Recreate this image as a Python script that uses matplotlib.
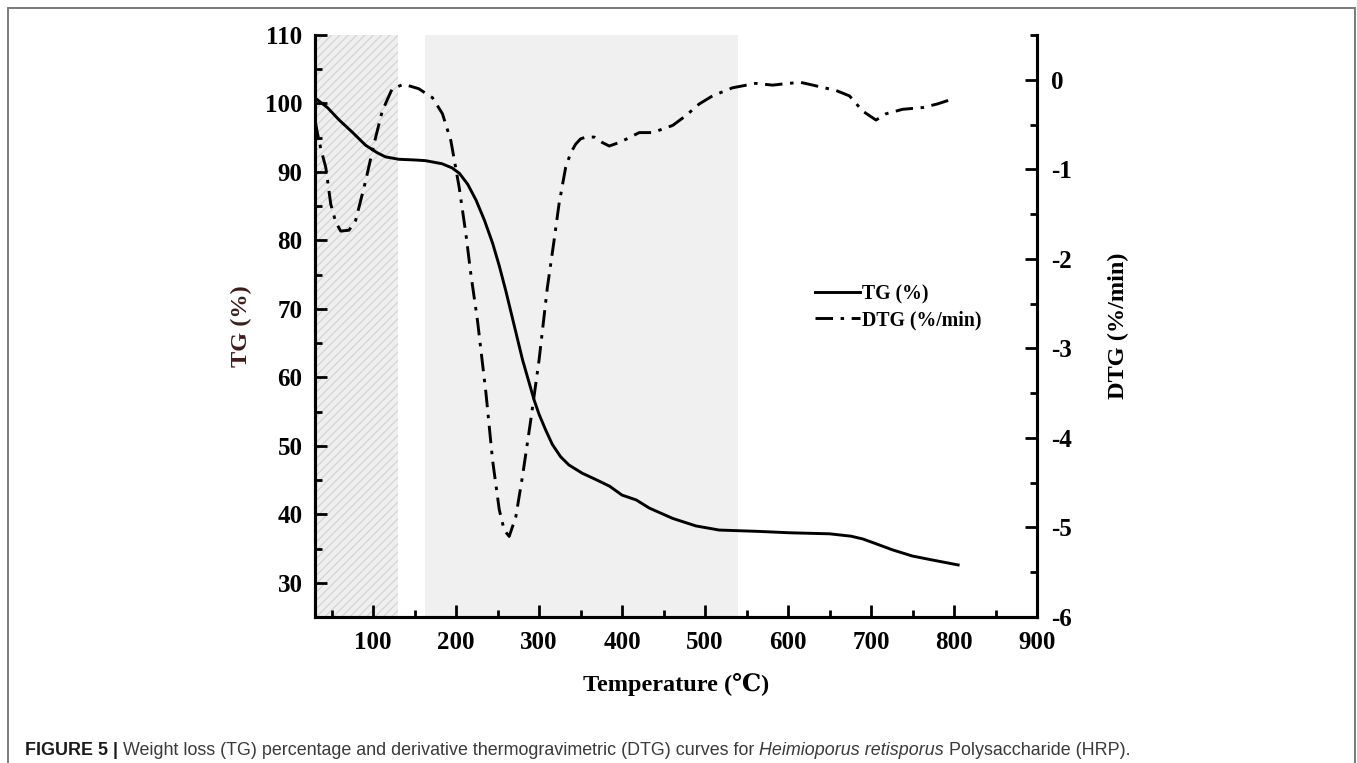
import matplotlib
matplotlib.use("Agg")
import matplotlib.pyplot as plt
from matplotlib.ticker import MultipleLocator
from matplotlib.patches import Rectangle
from matplotlib.lines import Line2D

# ---------------- data ----------------
tg_T = [30, 45, 59, 75, 91, 105, 115, 131, 150, 163, 183, 195, 204, 214, 224, 234,
        244, 252, 260, 268, 280, 294, 300, 308, 316, 326, 336, 352, 368, 385, 400,
        417, 433, 461, 489, 517, 541, 565, 602, 650, 676, 690, 706, 726, 750, 775, 805]
tg = [100.8, 99.4, 97.6, 95.8, 93.9, 92.8, 92.2, 91.85, 91.75, 91.65, 91.2, 90.6,
      89.8, 88.2, 85.9, 83.0, 79.6, 76.3, 72.6, 68.6, 62.6, 56.7, 54.6, 52.3, 50.2,
      48.4, 47.2, 46.0, 45.1, 44.1, 42.8, 42.1, 40.9, 39.4, 38.3, 37.7, 37.6, 37.5,
      37.3, 37.15, 36.8, 36.4, 35.7, 34.8, 33.9, 33.3, 32.6]

dtg_T = [30, 33, 37, 43, 49, 55, 61, 71, 79, 91, 101, 111, 123, 137, 155, 171.5,
         183.6, 193.7, 203.7, 211.8, 217.8, 225.8, 236, 244, 252, 258, 264, 272, 280,
         290, 300, 310, 318, 324, 332, 338, 344, 350, 356.5, 366.5, 376, 384.6, 396.6,
         408, 420.7, 436.8, 461, 477, 493, 509, 533, 561, 581.5, 600, 615.7, 630, 658,
         674, 690, 706, 718, 738, 762.5, 780, 800]
dtg = [-0.45, -0.6, -0.77, -0.98, -1.39, -1.59, -1.69, -1.68, -1.57, -1.13, -0.72,
       -0.35, -0.10, -0.05, -0.10, -0.20, -0.38, -0.68, -1.20, -1.72, -2.17, -2.69,
       -3.50, -4.25, -4.80, -5.03, -5.10, -4.88, -4.43, -3.80, -3.13, -2.32, -1.80,
       -1.39, -0.98, -0.82, -0.72, -0.66, -0.64, -0.64, -0.70, -0.74, -0.70, -0.65,
       -0.59, -0.59, -0.51, -0.40, -0.27, -0.18, -0.09, -0.04, -0.06, -0.04, -0.03,
       -0.06, -0.12, -0.18, -0.35, -0.45, -0.38, -0.33, -0.31, -0.27, -0.21]

hatch_region = (30, 130)
gray_region = (163, 540)

x_ticks = [100, 200, 300, 400, 500, 600, 700, 800, 900]
tg_ticks = [30, 40, 50, 60, 70, 80, 90, 100, 110]
dtg_ticks = [0, -1, -2, -3, -4, -5, -6]

caption_bold = "FIGURE 5 | "
caption_parts = [("Weight loss (TG) percentage and derivative thermogravimetric (DTG) curves for ", "normal"),
                 ("Heimioporus retisporus", "italic"),
                 (" Polysaccharide (HRP).", "normal")]

# ---------------- style ----------------
plt.rcParams['font.family'] = ['Liberation Serif', 'DejaVu Serif']
plt.rcParams['font.weight'] = 'bold'
plt.rcParams['axes.unicode_minus'] = False
plt.rcParams['hatch.linewidth'] = 0.9
plt.rcParams['hatch.color'] = '#d4d4d4'

W, H = 1357, 763
fig = plt.figure(figsize=(W / 100, H / 100), dpi=100)
ax = fig.add_axes([315 / W, 1 - 617 / H, (1037 - 315) / W, (617 - 35) / H])
ax2 = ax.twinx()

ax.set_zorder(1)
ax.patch.set_visible(False)
ax2.set_zorder(0)

ax2.axvspan(*hatch_region, facecolor='#efefef', edgecolor='#d4d4d4', hatch='////',
            linewidth=0, zorder=0)
ax2.axvspan(*gray_region, facecolor='#f0f0f0', edgecolor='none', linewidth=0, zorder=0)

lw = 2.1
dash = [6, 2.6, 1.2, 2.6]
ax.plot(tg_T, tg, color='black', lw=lw, solid_joinstyle='round', zorder=3)
l2, = ax2.plot(dtg_T, dtg, color='black', lw=lw, zorder=3)
l2.set_dashes(dash)

ax.set_xlim(30, 900)
ax.set_ylim(25, 110)
ax2.set_ylim(-6, 0.5)

ax.set_xticks(x_ticks)
ax.xaxis.set_minor_locator(MultipleLocator(50))
ax.set_yticks(tg_ticks)
ax.yaxis.set_minor_locator(MultipleLocator(5))
ax2.set_yticks(dtg_ticks)
ax2.yaxis.set_minor_locator(MultipleLocator(0.5))

for a in (ax, ax2):
    for s in a.spines.values():
        s.set_linewidth(2.2)
    a.spines['top'].set_visible(False)
    a.tick_params(which='major', direction='in', length=8.5, width=2.0, labelsize=18)
    a.tick_params(which='minor', direction='in', length=5, width=2.0)

ax.tick_params(axis='x', pad=10)
ax.tick_params(axis='y', pad=9)
ax2.tick_params(axis='y', pad=10)
for lab in ax.get_xticklabels() + ax.get_yticklabels() + ax2.get_yticklabels():
    lab.set_fontweight('bold')

ax.set_xlabel("Temperature (℃)", fontsize=17.5, fontweight='bold', labelpad=14)
ax.set_ylabel("TG (%)", fontsize=17.5, fontweight='bold', color='#3e1c1c', labelpad=9)
ax2.set_ylabel("DTG (%/min)", fontsize=17.5, fontweight='bold', labelpad=26)

handles = [Line2D([], [], color='black', lw=lw),
           Line2D([], [], color='black', lw=lw, dashes=dash)]
leg = ax.legend(handles, ["TG (%)", "DTG (%/min)"], loc='upper left',
                bbox_to_anchor=(0.668, 0.602), frameon=False,
                handlelength=2.3, handletextpad=0.1, labelspacing=0.3,
                prop={'weight': 'bold', 'size': 14.2})

# outer frame
fig.add_artist(Rectangle((8 / W, -0.02), (1355 - 8) / W, 1 - 8 / H + 0.02,
                         transform=fig.transFigure, fill=False,
                         edgecolor='#7a7a7a', linewidth=1.4))

# caption
renderer = fig.canvas.get_renderer()
x0 = 25 / W
yb = 1 - 755 / H
fs = 12.9
t = fig.text(x0, yb, caption_bold, fontsize=fs, fontweight='bold',
             family=['Liberation Sans', 'DejaVu Sans'], color='#1a1a1a', va='baseline')
x = x0 + t.get_window_extent(renderer).width / W
for txt, style in caption_parts:
    t = fig.text(x, yb, txt, fontsize=fs, fontweight='normal', fontstyle=style,
                 family=['Liberation Sans', 'DejaVu Sans'], color='#3a3a3a', va='baseline')
    x += t.get_window_extent(renderer).width / W

fig.savefig("out.png", dpi=100)
